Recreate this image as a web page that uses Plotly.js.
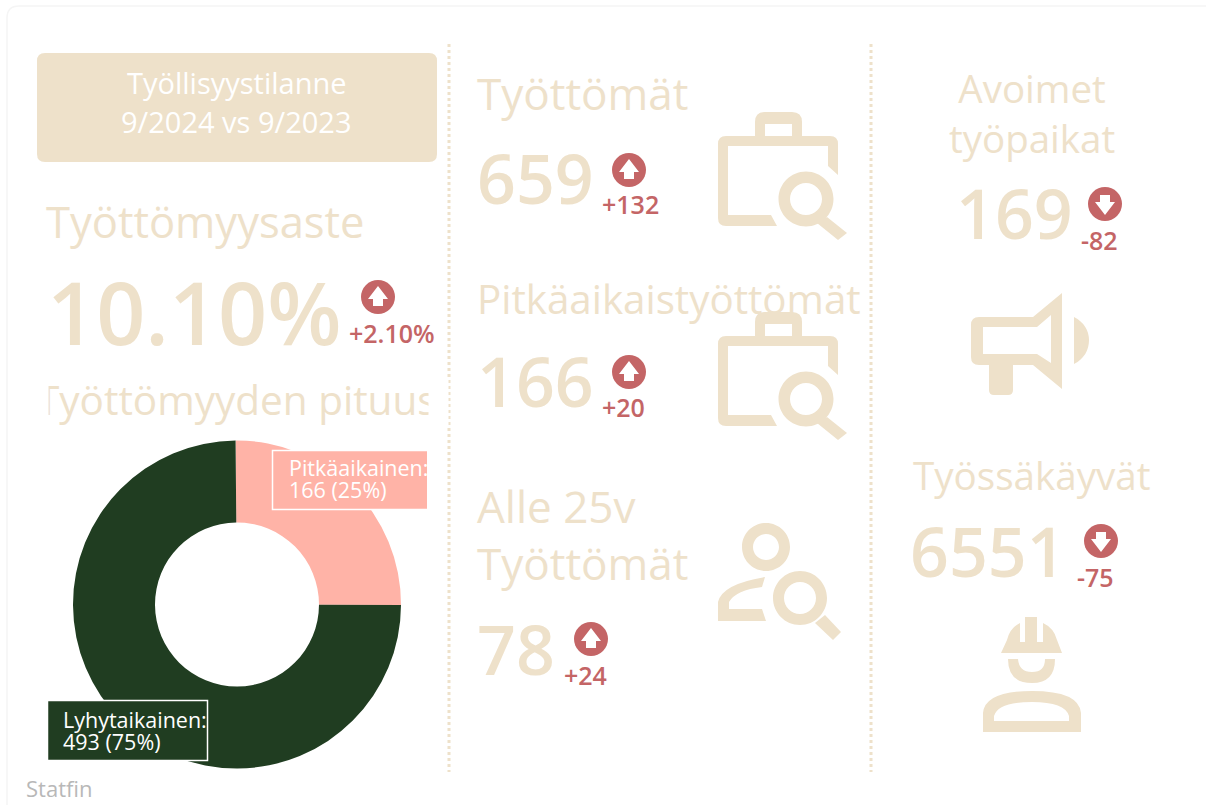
<!DOCTYPE html>
<html><head><meta charset="utf-8">
<script src="https://cdn.plot.ly/plotly-3.0.1.min.js"></script>
<style>html,body{margin:0;padding:0;background:#fff;overflow:hidden}#c{width:1206px;height:805px}</style>
</head><body><div id="c"></div>
<script>
const durationLabels = ["Pitkäaikainen", "Lyhytaikainen"];
const durationValues = [166, 493];
const durationColors = ["#ffb3a7", "#203d21"];
const kpiNames = ["Työttömät", "Pitkäaikaistyöttömät", "Alle 25v<br>Työttömät", "Avoimet<br>työpaikat", "Työssäkäyvät"];
const kpiValues = ["659", "166", "78", "169", "6551"];
const kpiDeltas = ["+132", "+20", "+24", "-82", "-75"];
const headline = "10.10%";
const headlineDelta = "+2.10%";
const TAN = "#eee1ca", RED = "#c46566", FONT = "Open Sans";

function txt(x, y, text, size, color, opts) {
  return Object.assign({xref:'x', yref:'y', x, y, text, showarrow:false, xanchor:'left', yanchor:'middle', align:'left',
    font:{family:FONT, size, color}, borderpad:0}, opts || {});
}
function big(x, y, text, size, opts) {
  return txt(x, y, text, size, TAN, Object.assign({font:{family:FONT, size, color:TAN, weight:600}}, opts || {}));
}
function delta(x, y, text) {
  return txt(x, y, text, 25, RED, {xanchor:'center', font:{family:FONT, size:25, color:RED, weight:600}});
}
function cover(x0, x1, y0, y1) {
  return {xref:'x', yref:'y', x:x0, y:y0, text:'\u00a0', showarrow:false, xanchor:'left', yanchor:'top', width:x1-x0, height:y1-y0,
    bgcolor:'#ffffff', borderpad:0, font:{family:FONT, size:8, color:'#ffffff'}};
}
const lw = {width:0};
function path(d, color) { return {type:'path', xref:'x', yref:'y', path:d, fillcolor:color || TAN, line:lw, layer:'above'}; }
function circ(cx, cy, q) {
  const k = q * 0.5523;
  return `M${cx-q},${cy} C${cx-q},${cy-k} ${cx-k},${cy-q} ${cx},${cy-q} C${cx+k},${cy-q} ${cx+q},${cy-k} ${cx+q},${cy} C${cx+q},${cy+k} ${cx+k},${cy+q} ${cx},${cy+q} C${cx-k},${cy+q} ${cx-q},${cy+k} ${cx-q},${cy} Z `;
}
function ring(cx, cy, R, r) { return circ(cx, cy, R) + circ(cx, cy, r); }
function briefcase(dy) {
  const Y = v => v + dy;
  return [
    `M726,${Y(136)} H830 Q838,${Y(136)} 838,${Y(144)} V${Y(175)} L828,${Y(166)} V${Y(146)} H728 V${Y(215)} H771 L777,${Y(226)} H726 Q718,${Y(226)} 718,${Y(218)} V${Y(144)} Q718,${Y(136)} 726,${Y(136)} Z`,
    `M755,${Y(136)} V${Y(122)} Q755,${Y(112)} 765,${Y(112)} H792 Q802,${Y(112)} 802,${Y(122)} V${Y(136)} H792 V${Y(124)} H765 V${Y(136)} Z`,
    ring(806, Y(199), 27.5, 16),
    `M827,${Y(217)} L847,${Y(233)} L838,${Y(240)} L817,${Y(223)} Z`
  ].map(d => path(d));
}
function badge(cx, cy, up) {
  const s = up ? 1 : -1;
  const P = (a, b) => `${cx + a},${cy + s * b}`;
  const arrow = `M${P(0,-11)} L${P(10,2)} L${P(5,2)} L${P(5,9)} L${P(-5,9)} L${P(-5,2)} L${P(-10,2)} Z`;
  return [
    {type:'circle', xref:'x', yref:'y', x0:cx-17, x1:cx+17, y0:cy-17, y1:cy+17, fillcolor:RED, line:lw, layer:'above'},
    path(arrow, '#ffffff')
  ];
}
const shapes = [
  {type:'path', xref:'x', yref:'y', path:'M1210,6 H19 Q7,6 7,18 V810', fillcolor:'rgba(0,0,0,0)', line:{color:'#f5f5f5', width:1.5}, layer:'below'},
  {type:'line', xref:'x', yref:'y', x0:449, x1:449, y0:44, y1:772, line:{color:TAN, width:3, dash:'dot'}, layer:'below'},
  {type:'line', xref:'x', yref:'y', x0:871, x1:871, y0:44, y1:772, line:{color:TAN, width:3, dash:'dot'}, layer:'below'},
  path('M45,53 H429 Q437,53 437,61 V154 Q437,162 429,162 H45 Q37,162 37,154 V61 Q37,53 45,53 Z'),
  ...briefcase(0), ...briefcase(200),
  // person + magnifier
  path(ring(766, 547, 24, 13)),
  path('M765,577 L762,587 Q736,590 729,602 V609 H762 L766,621 H718 V602 Q722,584 765,577 Z'),
  path(ring(800, 598, 27, 16)),
  path('M825,615 L841,632 L833,640 L815,623 Z'),
  // megaphone
  path('M979,317 H1033 L1062,293 V389 L1033,365 H1013 V390 Q1013,395 1008,395 H994 Q989,395 989,390 V365 H979 Q971,365 971,357 V325 Q971,317 979,317 Z M983,327 V354 H1037 L1051,363 V315 L1037,327 Z'),
  path('M1074,317 C1084,322 1089,331 1089,340 C1089,350 1084,359 1074,364 Z'),
  // worker
  path('M1001,653 L1007,640 Q1010,628 1020,623 V642 H1025 V617 H1037 V642 H1043 V623 Q1054,628 1057,640 L1062,653 Z'),
  path('M1008,659 H1018 Q1019,672 1032,672 Q1045,672 1045,659 H1055 Q1055,683 1032,683 Q1008,683 1008,659 Z'),
  path('M983,732 V713 Q985,691 1032,691 Q1079,691 1081,713 V732 Z M994,721 H1069 V716 Q1065,702 1032,702 Q998,702 994,716 Z'),
  ...badge(378, 297, true), ...badge(629, 170, true), ...badge(629, 372, true), ...badge(591, 639, true),
  ...badge(1105, 204, false), ...badge(1101, 541, false),
  // donut data label boxes
  {type:'rect', xref:'x', yref:'y', x0:272.5, x1:427, y0:450.5, y1:509.5, fillcolor:durationColors[0], line:{width:0}, layer:'above'},
  {type:'path', xref:'x', yref:'y', path:'M427,450.5 H272.5 V509.5 H427', fillcolor:'rgba(0,0,0,0)', line:{color:'#ffffff', width:1.5}, layer:'above'},
  {type:'rect', xref:'x', yref:'y', x0:47.5, x1:207.5, y0:700.5, y1:760.5, fillcolor:durationColors[1], line:{color:'#ffffff', width:1.5}, layer:'above'}
];
const annotations = [
  txt(237, 82, "Työllisyystilanne", 29, '#ffffff', {xanchor:'center'}),
  txt(236, 121, "9/2024 vs 9/2023", 29, '#ffffff', {xanchor:'center'}),
  txt(45, 221, "Työttömyysaste", 43.5, TAN),
  big(46, 311, headline, 86),
  delta(392, 333, headlineDelta),
  txt(237, 399, "Työttömyyden pituus", 40.5, TAN, {xanchor:'center'}),
  cover(30, 47, 378, 424),
  cover(428, 447, 378, 424),
  txt(476, 93, kpiNames[0], 44, TAN),
  big(476, 177, kpiValues[0], 68),
  delta(630, 204, kpiDeltas[0]),
  txt(476, 298, kpiNames[1], 40.3, TAN),
  big(476, 380, kpiValues[1], 68),
  delta(623, 407, kpiDeltas[1]),
  txt(476, 534, kpiNames[2], 44, TAN),
  big(476, 648, kpiValues[2], 68),
  delta(585, 675, kpiDeltas[2]),
  txt(1032, 113, kpiNames[3], 38.5, TAN, {xanchor:'center', align:'center'}),
  big(1014, 212, kpiValues[3], 68, {xanchor:'center'}),
  delta(1099, 240, kpiDeltas[3]),
  txt(1031, 475, kpiNames[4], 38.6, TAN, {xanchor:'center'}),
  big(988, 550, kpiValues[4], 68, {xanchor:'center'}),
  delta(1095, 577, kpiDeltas[4]),
  txt(288, 467, durationLabels[0] + ":", 21.5, '#ffffff'),
  txt(288, 489, `${durationValues[0]} (25%)`, 21.5, '#ffffff'),
  cover(427.7, 440, 452, 482),
  txt(62, 719, durationLabels[1] + ":", 21.5, '#ffffff'),
  txt(62, 741, `${durationValues[1]} (75%)`, 21.5, '#ffffff'),
  txt(25, 788, "Statfin", 22, '#b8b8b8')
];
const W = 1206, H = 805, cx = 237, cy = 604.5, R = 164;
const traces = [
  {type:'scatter', x:[], y:[], hoverinfo:'skip', showlegend:false},
  {type:'pie', labels:durationLabels, values:durationValues, hole:0.5, sort:false, direction:'clockwise', rotation:-0.5,
   marker:{colors:durationColors}, textinfo:'none', hoverinfo:'label+value+percent', showlegend:false,
   domain:{x:[(cx-R)/W, (cx+R)/W], y:[1-(cy+R)/H, 1-(cy-R)/H]}}
];
const layout = {
  width:W, height:H, margin:{l:0, r:0, t:0, b:0, pad:0, autoexpand:false}, paper_bgcolor:'#ffffff', plot_bgcolor:'rgba(0,0,0,0)',
  showlegend:false, font:{family:FONT},
  xaxis:{range:[0,W], visible:false, fixedrange:true, domain:[0,1]},
  yaxis:{range:[H,0], visible:false, fixedrange:true, domain:[0,1]},
  shapes, annotations
};
Plotly.newPlot('c', traces, layout, {displayModeBar:false, staticPlot:true});
</script></body></html>
